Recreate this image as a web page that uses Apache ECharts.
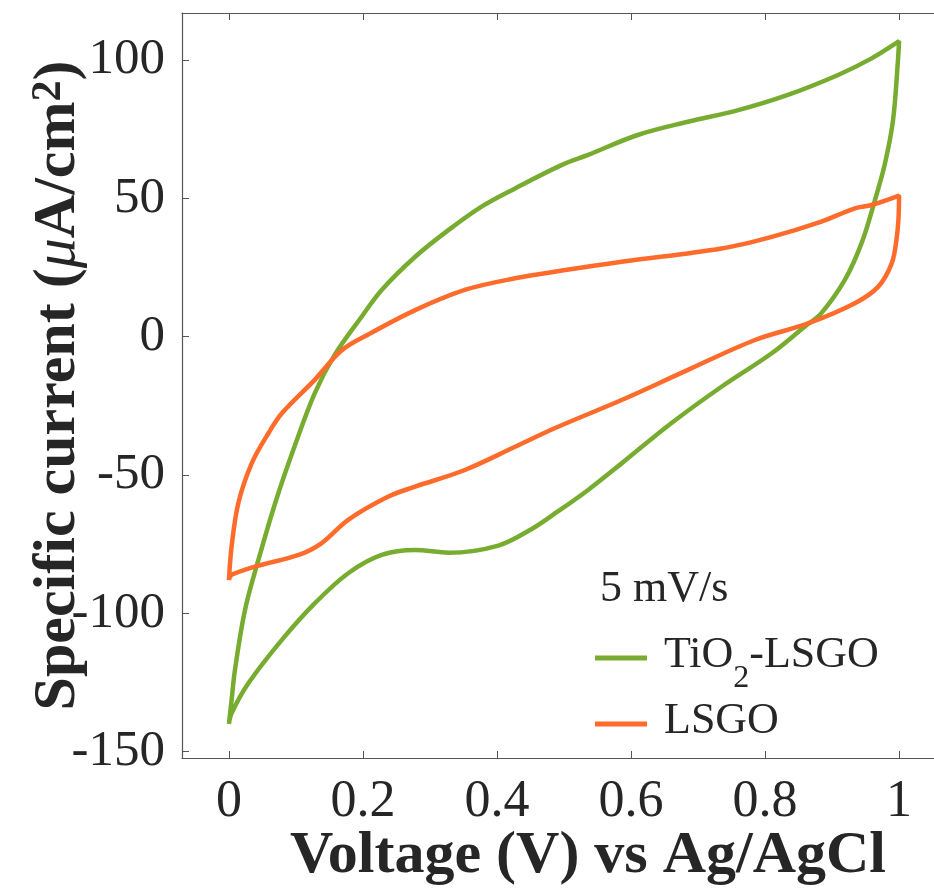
<!DOCTYPE html>
<html>
<head>
<meta charset="utf-8">
<script src="https://cdn.jsdelivr.net/npm/echarts@6/dist/echarts.min.js"></script>
<style>html,body{margin:0;padding:0;background:#fff}#c{width:934px;height:890px}</style>
</head>
<body>
<div id="c"></div>
<script>
// TiO2-LSGO cyclic voltammogram (V vs Ag/AgCl, µA/cm2), traced in scan order
const tio2Voltage = [0, 0.004, 0.009, 0.024, 0.044, 0.069, 0.096, 0.128, 0.158, 0.198, 0.228, 0.278, 0.328, 0.377, 0.427, 0.497, 0.536, 0.610, 0.685, 0.760, 0.834, 0.909, 0.959, 1.0,
  0.998, 0.991, 0.979, 0.964, 0.944, 0.919, 0.884, 0.859, 0.810, 0.735, 0.660, 0.586, 0.536, 0.486, 0.452, 0.402, 0.328, 0.278, 0.228, 0.178, 0.128, 0.079, 0.029, 0.004, 0];
const tio2Current = [-140, -131.3, -120.5, -98.8, -80.7, -60.2, -41.0, -20.5, -6.5, 7.2, 16.9, 28.9, 38.6, 47.0, 53.6, 62.1, 65.7, 72.9, 77.7, 81.9, 87.4, 94.6, 100.6, 106.8,
  98.8, 78.3, 62.7, 49.4, 33.8, 20.5, 8.5, 3.6, -6.0, -18.1, -31.3, -45.8, -55.4, -64.0, -69.5, -75.5, -78.1, -77.1, -78.9, -85.5, -96.4, -109.6, -125.3, -136.1, -140];
// LSGO
const lsgoVoltage = [0, 0.004, 0.014, 0.034, 0.059, 0.079, 0.128, 0.168, 0.208, 0.278, 0.352, 0.427, 0.497, 0.586, 0.735, 0.810, 0.884, 0.934, 0.959, 1.0,
  0.999, 0.996, 0.989, 0.969, 0.934, 0.864, 0.785, 0.685, 0.586, 0.486, 0.427, 0.352, 0.278, 0.238, 0.178, 0.138, 0.104, 0.039, 0.004, 0];
const lsgoCurrent = [-88, -75.9, -60.2, -45.8, -34.9, -27.7, -15.6, -5.0, 0.8, 9.6, 16.9, 21.1, 23.9, 27.1, 31.9, 36.1, 41.6, 46.4, 47.6, 51.0,
  42.2, 34.9, 26.5, 18.1, 12.1, 4.8, -1.2, -12.0, -22.9, -33.1, -39.8, -48.2, -54.2, -57.8, -66.2, -74.7, -78.9, -83.1, -86.1, -88];
const xTicks = [0, 0.2, 0.4, 0.6, 0.8, 1];
const yTicks = [-150, -100, -50, 0, 50, 100];
const seriesNames = ['TiO2-LSGO', 'LSGO'];
const scanRate = '5 mV/s';

const serif = "'Liberation Serif','Times New Roman',serif";
const zip = (a, b) => a.map((v, i) => [v, b[i]]);
const axisColor = '#555';
const labelColor = '#262626';

const chart = echarts.init(document.getElementById('c'), null, {renderer: 'canvas'});
const legendBase = {
  orient: 'vertical', icon: 'rect', itemWidth: 52, itemHeight: 5,
  textStyle: {fontFamily: serif, fontSize: 44, color: labelColor, padding: [0, 0, 0, 12],
    rich: {
      a: {fontFamily: serif, fontSize: 44, color: labelColor, lineHeight: 50, verticalAlign: 'top'},
      s: {fontFamily: serif, fontSize: 32, color: labelColor, lineHeight: 32, verticalAlign: 'top', padding: [30, 0, 0, 0]}
    }},
  formatter: n => n === 'TiO2-LSGO' ? '{a|TiO}{s|2}{a|-LSGO}' : '{a|' + n + '}'
};
chart.setOption({
  animation: false,
  backgroundColor: '#fff',
  title: {text: scanRate, left: 595, top: 562, textStyle: {fontFamily: serif, fontSize: 44, fontWeight: 'normal', color: labelColor}},
  legend: [
    Object.assign({}, legendBase, {data: [seriesNames[0]], left: 590, top: 628}),
    Object.assign({}, legendBase, {data: [seriesNames[1]], left: 590, top: 694})
  ],
  grid: {left: 182, top: 13, width: 764, height: 745, containLabel: false, outerBoundsMode: 'none'},
  xAxis: [{
    type: 'value', min: -0.07, max: 1.07, position: 'bottom',
    axisLine: {onZero: false, lineStyle: {color: axisColor, width: 1.2}},
    axisTick: {inside: true, length: 7, lineStyle: {color: axisColor}, customValues: xTicks},
    axisLabel: {customValues: xTicks, fontFamily: serif, fontSize: 52, color: labelColor, margin: 18,
      formatter: v => String(v)},
    splitLine: {show: false},
    name: 'Voltage (V) vs Ag/AgCl', nameLocation: 'middle', nameGap: 68, nameMoveOverlap: false,
    nameTextStyle: {fontFamily: serif, fontSize: 60, fontWeight: 'bold', color: labelColor, padding: [0, 0, 0, 48]}
  }, {
    type: 'value', min: -0.07, max: 1.07, position: 'top',
    axisLine: {onZero: false, lineStyle: {color: axisColor, width: 1.2}},
    axisTick: {inside: true, length: 7, lineStyle: {color: axisColor}, customValues: xTicks},
    axisLabel: {show: false}, splitLine: {show: false}
  }],
  yAxis: [{
    type: 'value', min: -152.3, max: 117,
    axisLine: {show: true, onZero: false, lineStyle: {color: axisColor, width: 1.2}},
    axisTick: {show: true, inside: true, length: 7, lineStyle: {color: axisColor}, customValues: yTicks},
    axisLabel: {customValues: yTicks, fontFamily: serif, fontSize: 51, color: labelColor, margin: 17,
      formatter: v => String(v)},
    splitLine: {show: false},
    name: '{b|Specific current (}{mu|\u03bc}{b|A/cm}{sup|2}{b|)}', nameLocation: 'middle', nameGap: 84, nameMoveOverlap: false,
    nameTextStyle: {
      rich: {
        b: {fontFamily: serif, fontSize: 60, fontWeight: 'bold', color: labelColor, lineHeight: 70, verticalAlign: 'top'},
        mu: {fontFamily: serif, fontSize: 60, fontStyle: 'italic', color: labelColor, lineHeight: 70, verticalAlign: 'top'},
        sup: {fontFamily: serif, fontSize: 42, fontWeight: 'bold', color: labelColor, lineHeight: 42, verticalAlign: 'top'}
      }
    }
  }],
  series: [
    {name: seriesNames[0], type: 'line', data: zip(tio2Voltage, tio2Current), showSymbol: false, smooth: 0.35,
      lineStyle: {color: '#77AC30', width: 4.5}, itemStyle: {color: '#77AC30'}},
    {name: seriesNames[1], type: 'line', data: zip(lsgoVoltage, lsgoCurrent), showSymbol: false, smooth: 0.35,
      lineStyle: {color: '#FF6B2B', width: 4.5}, itemStyle: {color: '#FF6B2B'}}
  ]
});
</script>
</body>
</html>
